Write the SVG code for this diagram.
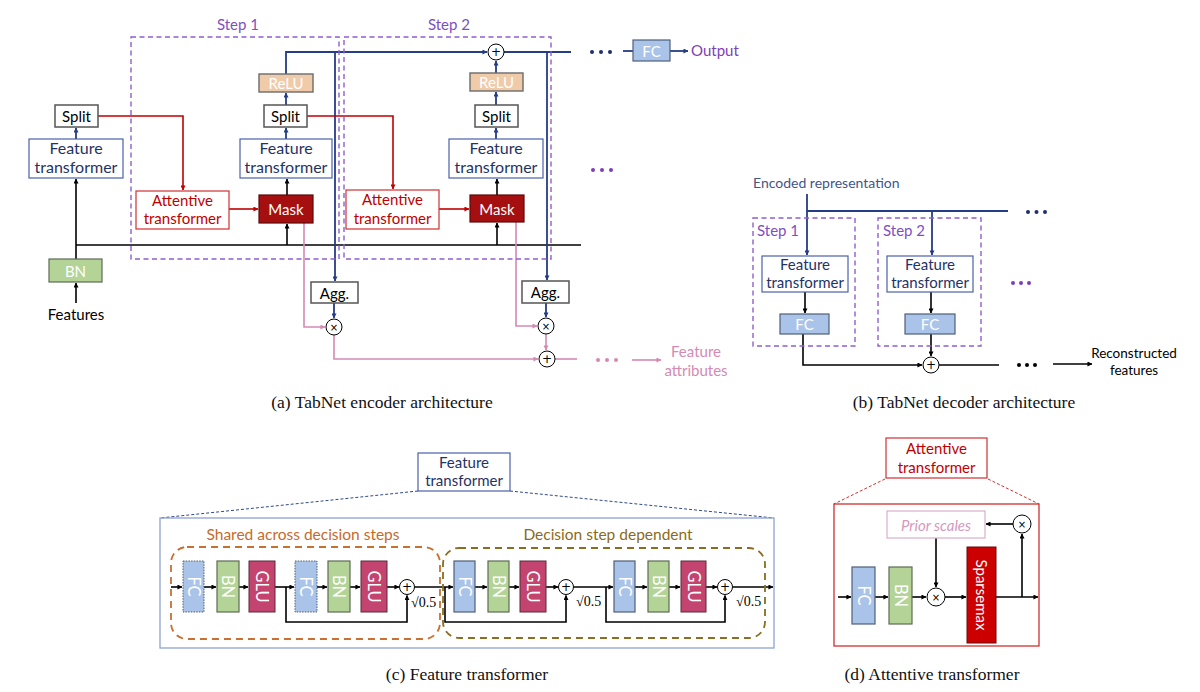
<svg xmlns="http://www.w3.org/2000/svg" width="1200" height="692" viewBox="0 0 1200 692">
<defs>
<style>
text{font-family:Lato,"Noto Sans","DejaVu Sans",sans-serif;}
.cap{font-family:"Liberation Serif","DejaVu Serif",serif;font-size:17.5px;fill:#111;text-anchor:middle;}
.serif{font-family:"Liberation Serif","DejaVu Serif",serif;}
.c{text-anchor:middle;dominant-baseline:central;}
.step{fill:none;stroke:#8E5FD0;stroke-width:1.4;stroke-dasharray:5 3.5;}
.steptxt{fill:#7E4FBF;font-size:15px;}
.ft{fill:#fff;stroke:#4A62A8;stroke-width:1.2;}
.fttxt{fill:#1F3366;font-size:15px;text-anchor:middle;}
.fte{font-size:16px;}
.gbox{fill:#fff;stroke:#555;stroke-width:1.5;}
.blk{fill:#000;font-size:15px;}
.relu{fill:#EFCBAA;stroke:#6B6B6B;stroke-width:1.4;}
.bn{fill:#B3D496;stroke:#5E6B55;stroke-width:1.2;}
.fc{fill:#A9C4E8;stroke:#4F5F78;stroke-width:1.2;}
.fcd{fill:#A9C4E8;stroke:#4F5F78;stroke-width:1;stroke-dasharray:1.5 1.2;}
.glu{fill:#C2446F;stroke:#5A2A3A;stroke-width:1;}
.wt{fill:#fff;font-size:15px;}
.rt{font-size:16.5px;}
.at{fill:#fff;stroke:#D03030;stroke-width:1.2;}
.attxt{fill:#C00000;font-size:15px;text-anchor:middle;}
.mask{fill:#A50F0F;stroke:#5A0A0A;stroke-width:1.2;}
.op{fill:#fff;stroke:#000;stroke-width:1;}
.optxt{font-family:"DejaVu Sans",sans-serif;fill:#000;text-anchor:middle;dominant-baseline:central;}
.navy{fill:none;stroke:#253C86;stroke-width:1.8;}
.bk{fill:none;stroke:#000;stroke-width:1.6;}
.red{fill:none;stroke:#C00000;stroke-width:1.6;}
.pink{fill:none;stroke:#D48AB3;stroke-width:1.6;}
</style>
<marker id="aN" viewBox="0 0 6 6" refX="5.5" refY="3" markerWidth="5" markerHeight="5" markerUnits="userSpaceOnUse" orient="auto"><path d="M0,0 L6,3 L0,6 z" fill="#253C86"/></marker>
<marker id="aK" viewBox="0 0 6 6" refX="5.5" refY="3" markerWidth="5" markerHeight="5" markerUnits="userSpaceOnUse" orient="auto"><path d="M0,0 L6,3 L0,6 z" fill="#000"/></marker>
<marker id="aR" viewBox="0 0 6 6" refX="5.5" refY="3" markerWidth="5" markerHeight="5" markerUnits="userSpaceOnUse" orient="auto"><path d="M0,0 L6,3 L0,6 z" fill="#C00000"/></marker>
<marker id="aP" viewBox="0 0 6 6" refX="5.5" refY="3" markerWidth="5" markerHeight="5" markerUnits="userSpaceOnUse" orient="auto"><path d="M0,0 L6,3 L0,6 z" fill="#D48AB3"/></marker>
</defs>
<rect width="1200" height="692" fill="#fff"/>

<!-- ===== (a) encoder ===== -->
<g id="connectors-a">
<line class="bk" x1="76" y1="303" x2="76" y2="283" marker-end="url(#aK)"/>
<line class="bk" x1="76" y1="259" x2="76" y2="179" marker-end="url(#aK)"/>
<line class="bk" x1="76" y1="245" x2="581" y2="245"/>
<line class="bk" x1="287" y1="245" x2="287" y2="224" marker-end="url(#aK)"/>
<line class="bk" x1="497" y1="245" x2="497" y2="223" marker-end="url(#aK)"/>
<line class="bk" x1="287" y1="195" x2="287" y2="179" marker-end="url(#aK)"/>
<line class="bk" x1="497" y1="195" x2="497" y2="179" marker-end="url(#aK)"/>
<line class="navy" x1="76" y1="139" x2="76" y2="128" marker-end="url(#aN)"/>
<line class="navy" x1="286" y1="139" x2="286" y2="128" marker-end="url(#aN)"/>
<line class="navy" x1="286" y1="105" x2="286" y2="93" marker-end="url(#aN)"/>
<line class="navy" x1="496" y1="139" x2="496" y2="128" marker-end="url(#aN)"/>
<line class="navy" x1="496" y1="105" x2="496" y2="92" marker-end="url(#aN)"/>
<line class="navy" x1="496" y1="73" x2="496" y2="61" marker-end="url(#aN)"/>
<path class="navy" d="M286,74 V52 H487" marker-end="url(#aN)"/>
<line class="navy" x1="504" y1="52" x2="571" y2="52"/>
<line class="navy" x1="335" y1="52" x2="335" y2="281" marker-end="url(#aN)"/>
<line class="navy" x1="547" y1="52" x2="547" y2="280" marker-end="url(#aN)"/>
<line class="navy" x1="334" y1="303" x2="334" y2="318" marker-end="url(#aN)"/>
<line class="navy" x1="546" y1="303" x2="546" y2="317" marker-end="url(#aN)"/>
<path class="red" d="M98,116 H183 V190" marker-end="url(#aR)"/>
<path class="red" d="M307,116 H393 V189" marker-end="url(#aR)"/>
<line class="red" x1="229" y1="209" x2="258" y2="209" marker-end="url(#aR)"/>
<line class="red" x1="439" y1="209" x2="469" y2="209" marker-end="url(#aR)"/>
<path class="pink" d="M304,223 V327 H325" marker-end="url(#aP)"/>
<path class="pink" d="M516,222 V326 H537" marker-end="url(#aP)"/>
<path class="pink" d="M334,335 V359 H538" marker-end="url(#aP)"/>
<line class="pink" x1="546" y1="334" x2="546" y2="350" marker-end="url(#aP)"/>
<line class="pink" x1="555" y1="359" x2="577" y2="359"/>
<line class="pink" x1="632" y1="360" x2="661" y2="360" marker-end="url(#aP)"/>
<line class="navy" x1="623" y1="51" x2="633" y2="51"/>
<line class="navy" x1="670" y1="51" x2="688" y2="51" marker-end="url(#aN)"/>
<g fill="#1F2F6B"><circle cx="592" cy="52" r="2"/><circle cx="601" cy="52" r="2"/><circle cx="610" cy="52" r="2"/></g>
<g fill="#7E3FB5"><circle cx="593" cy="170" r="2"/><circle cx="602" cy="170" r="2"/><circle cx="611" cy="170" r="2"/></g>
<g fill="#D48AB3"><circle cx="598" cy="360" r="2"/><circle cx="607" cy="360" r="2"/><circle cx="616" cy="360" r="2"/></g>
</g>

<g id="step1"><rect class="step" x="131" y="37" width="208" height="222"/><text class="steptxt" x="238" y="30" text-anchor="middle">Step 1</text></g>
<g id="step2"><rect class="step" x="344" y="37" width="207" height="222"/><text class="steptxt" x="449" y="30" text-anchor="middle">Step 2</text></g>

<g id="split0"><rect class="gbox" x="55" y="105" width="43" height="22"/><text class="blk c" x="76.5" y="116">Split</text></g>
<g id="ft0"><rect class="ft" x="29" y="139" width="94" height="39"/><text class="fttxt fte" x="76" y="154">Feature</text><text class="fttxt fte" x="76" y="173">transformer</text></g>
<g id="bn0"><rect class="bn" x="49" y="259" width="53" height="23"/><text class="wt c" x="75.5" y="270.5">BN</text></g>
<g id="features"><text class="blk" x="76" y="320" text-anchor="middle">Features</text></g>

<g id="at1"><rect class="at" x="136" y="191" width="93" height="38"/><text class="attxt" x="182.5" y="206">Attentive</text><text class="attxt" x="182.5" y="224">transformer</text></g>
<g id="mask1"><rect class="mask" x="259" y="195" width="54" height="28"/><text class="wt c" x="286" y="209">Mask</text></g>
<g id="ft1"><rect class="ft" x="240" y="139" width="92" height="39"/><text class="fttxt fte" x="286" y="154">Feature</text><text class="fttxt fte" x="286" y="173">transformer</text></g>
<g id="split1"><rect class="gbox" x="264" y="105" width="43" height="22"/><text class="blk c" x="285.5" y="116">Split</text></g>
<g id="relu1"><rect class="relu" x="259" y="74" width="54" height="18"/><text class="wt c" x="286" y="83">ReLU</text></g>
<g id="agg1"><rect class="gbox" x="311" y="282" width="47" height="21"/><text class="blk c" x="334.5" y="292.5">Agg.</text></g>
<g id="mul1"><circle class="op" cx="334" cy="327" r="8"/><text class="optxt" x="334" y="327" font-size="10">×</text></g>

<g id="at2"><rect class="at" x="346" y="190" width="93" height="39"/><text class="attxt" x="392.5" y="205">Attentive</text><text class="attxt" x="392.5" y="224">transformer</text></g>
<g id="mask2"><rect class="mask" x="470" y="195" width="54" height="27"/><text class="wt c" x="497" y="208.5">Mask</text></g>
<g id="ft2"><rect class="ft" x="449" y="139" width="94" height="39"/><text class="fttxt fte" x="496" y="154">Feature</text><text class="fttxt fte" x="496" y="173">transformer</text></g>
<g id="split2"><rect class="gbox" x="475" y="105" width="43" height="22"/><text class="blk c" x="496.5" y="116">Split</text></g>
<g id="relu2"><rect class="relu" x="470" y="73" width="53" height="18"/><text class="wt c" x="496.5" y="82">ReLU</text></g>
<g id="add1"><circle class="op" cx="496" cy="52" r="8"/><text class="optxt" x="496" y="52" font-size="12">+</text></g>
<g id="agg2"><rect class="gbox" x="522" y="281" width="47" height="22"/><text class="blk c" x="545.5" y="292">Agg.</text></g>
<g id="mul2"><circle class="op" cx="546" cy="326" r="8"/><text class="optxt" x="546" y="326" font-size="10">×</text></g>
<g id="add2"><circle class="op" cx="547" cy="359" r="8"/><text class="optxt" x="547" y="359" font-size="12">+</text></g>
<g id="fcout"><rect class="fc" x="633" y="40" width="37" height="21"/><text class="wt c" x="651.5" y="50.5">FC</text></g>
<g id="output"><text x="691" y="56" fill="#7E3FB5" font-size="15">Output</text></g>
<g id="featattr"><text x="696" y="357" fill="#D48AB3" font-size="15" text-anchor="middle">Feature</text><text x="696" y="376" fill="#D48AB3" font-size="15" text-anchor="middle">attributes</text></g>
<text class="cap" x="382" y="408">(a)  TabNet encoder architecture</text>

<!-- ===== (b) decoder ===== -->
<g id="connectors-b">
<line class="navy" x1="807" y1="194" x2="807" y2="255" marker-end="url(#aN)"/>
<line class="navy" x1="807" y1="211" x2="1008" y2="211"/>
<line class="navy" x1="932" y1="211" x2="932" y2="255" marker-end="url(#aN)"/>
<line class="bk" x1="805" y1="292" x2="805" y2="313" marker-end="url(#aK)"/>
<line class="bk" x1="931" y1="292" x2="931" y2="313" marker-end="url(#aK)"/>
<path class="bk" d="M803,334 V365 H922" marker-end="url(#aK)"/>
<line class="bk" x1="931" y1="334" x2="931" y2="356" marker-end="url(#aK)"/>
<line class="bk" x1="939" y1="365" x2="999" y2="365"/>
<line class="bk" x1="1053" y1="364" x2="1092" y2="364" marker-end="url(#aK)"/>
<g fill="#1F2F6B"><circle cx="1028" cy="212" r="2"/><circle cx="1036.5" cy="212" r="2"/><circle cx="1045" cy="212" r="2"/></g>
<g fill="#7E3FB5"><circle cx="1013" cy="283" r="2"/><circle cx="1021" cy="283" r="2"/><circle cx="1029" cy="283" r="2"/></g>
<g fill="#000"><circle cx="1019" cy="365" r="2"/><circle cx="1027" cy="365" r="2"/><circle cx="1035" cy="365" r="2"/></g>
</g>
<g id="encrep"><text x="753" y="188" fill="#3F5689" font-size="14">Encoded representation</text></g>
<g id="dstep1"><rect class="step" x="753" y="218" width="102" height="128"/><text class="steptxt" x="757" y="236">Step 1</text></g>
<g id="dstep2"><rect class="step" x="878" y="218" width="103" height="128"/><text class="steptxt" x="883" y="236">Step 2</text></g>
<g id="dft1"><rect class="ft" x="762" y="256" width="86" height="36"/><text class="fttxt" x="805" y="270" font-size="14">Feature</text><text class="fttxt" x="805" y="288" font-size="14">transformer</text></g>
<g id="dft2"><rect class="ft" x="887" y="256" width="86" height="36"/><text class="fttxt" x="930" y="270" font-size="14">Feature</text><text class="fttxt" x="930" y="288" font-size="14">transformer</text></g>
<g id="dfc1"><rect class="fc" x="780" y="314" width="49" height="20"/><text class="wt c" x="804.5" y="324" font-size="14">FC</text></g>
<g id="dfc2"><rect class="fc" x="905" y="314" width="50" height="20"/><text class="wt c" x="930" y="324" font-size="14">FC</text></g>
<g id="dadd"><circle class="op" cx="931" cy="365" r="8"/><text class="optxt" x="931" y="365" font-size="12">+</text></g>
<g id="recon"><text x="1134" y="358" font-size="13.5" text-anchor="middle" fill="#000">Reconstructed</text><text x="1134" y="375" font-size="13.5" text-anchor="middle" fill="#000">features</text></g>
<text class="cap" x="964" y="408">(b)  TabNet decoder architecture</text>

<!-- ===== (c) feature transformer ===== -->
<g id="connectors-c">
<line stroke="#2E4A8A" stroke-width="1" stroke-dasharray="3 2" x1="418" y1="491" x2="160" y2="518"/>
<line stroke="#2E4A8A" stroke-width="1" stroke-dasharray="3 2" x1="510" y1="491" x2="774" y2="518"/>
<line class="bk" x1="171" y1="587" x2="182" y2="587" marker-end="url(#aK)"/>
<line class="bk" x1="204" y1="587" x2="216" y2="587" marker-end="url(#aK)"/>
<line class="bk" x1="239" y1="587" x2="248" y2="587" marker-end="url(#aK)"/>
<line class="bk" x1="275" y1="587" x2="294" y2="587" marker-end="url(#aK)"/>
<line class="bk" x1="317" y1="587" x2="327" y2="587" marker-end="url(#aK)"/>
<line class="bk" x1="350" y1="587" x2="360" y2="587" marker-end="url(#aK)"/>
<line class="bk" x1="387" y1="587" x2="399" y2="587" marker-end="url(#aK)"/>
<line class="bk" x1="414.5" y1="587" x2="453" y2="587" marker-end="url(#aK)"/>
<line class="bk" x1="475" y1="587" x2="487" y2="587" marker-end="url(#aK)"/>
<line class="bk" x1="509" y1="587" x2="519" y2="587" marker-end="url(#aK)"/>
<line class="bk" x1="546" y1="587" x2="558" y2="587" marker-end="url(#aK)"/>
<line class="bk" x1="573.5" y1="587" x2="613" y2="587" marker-end="url(#aK)"/>
<line class="bk" x1="635" y1="587" x2="647" y2="587" marker-end="url(#aK)"/>
<line class="bk" x1="669" y1="587" x2="680" y2="587" marker-end="url(#aK)"/>
<line class="bk" x1="706" y1="587" x2="717" y2="587" marker-end="url(#aK)"/>
<line class="bk" x1="732.5" y1="587" x2="773" y2="587" marker-end="url(#aK)"/>
<path class="bk" d="M286,587 V622 H407 V595.5" marker-end="url(#aK)"/>
<path class="bk" d="M445,587 V622 H566 V595.5" marker-end="url(#aK)"/>
<path class="bk" d="M606,587 V622 H725 V595.5" marker-end="url(#aK)"/>
</g>
<g id="ftlabel"><rect class="ft" x="418" y="453" width="92" height="38"/><text class="fttxt" x="464" y="468" font-size="14.5">Feature</text><text class="fttxt" x="464" y="486" font-size="14.5">transformer</text></g>
<g id="ftouter"><rect x="160" y="518" width="614" height="130" fill="none" stroke="#8FA3CF" stroke-width="1.3"/></g>
<g id="shared"><rect x="171" y="547" width="269" height="92" rx="16" fill="none" stroke="#C8702F" stroke-width="1.8" stroke-dasharray="7 5"/><text x="303" y="540" fill="#C56A2B" font-size="15.5" text-anchor="middle">Shared across decision steps</text></g>
<g id="dependent"><rect x="443" y="548" width="322" height="90" rx="16" fill="none" stroke="#8C6D1F" stroke-width="1.8" stroke-dasharray="7 5"/><text x="608" y="540" fill="#8B6A1A" font-size="15.5" text-anchor="middle">Decision step dependent</text></g>
<g id="fc-a"><rect class="fcd" x="183" y="561" width="21" height="51"/><text class="wt rt c" transform="translate(193.5,586.5) rotate(90)">FC</text></g>
<g id="bn-a"><rect class="bn" x="217" y="561" width="22" height="51"/><text class="wt rt c" transform="translate(228,586.5) rotate(90)">BN</text></g>
<g id="glu-a"><rect class="glu" x="249" y="561" width="26" height="51"/><text class="wt rt c" transform="translate(262,586.5) rotate(90)">GLU</text></g>
<g id="fc-b"><rect class="fcd" x="295" y="561" width="22" height="51"/><text class="wt rt c" transform="translate(306,586.5) rotate(90)">FC</text></g>
<g id="bn-b"><rect class="bn" x="328" y="561" width="22" height="51"/><text class="wt rt c" transform="translate(339,586.5) rotate(90)">BN</text></g>
<g id="glu-b"><rect class="glu" x="361" y="561" width="26" height="51"/><text class="wt rt c" transform="translate(374,586.5) rotate(90)">GLU</text></g>
<g id="add-a"><circle class="op" cx="407" cy="587" r="7.5"/><text class="optxt" x="407" y="587" font-size="12">+</text><text class="serif" x="411" y="607" font-size="14" fill="#000">√0.5</text></g>
<g id="fc-c"><rect class="fc" x="454" y="561" width="21" height="51"/><text class="wt rt c" transform="translate(464.5,586.5) rotate(90)">FC</text></g>
<g id="bn-c"><rect class="bn" x="488" y="561" width="21" height="51"/><text class="wt rt c" transform="translate(498.5,586.5) rotate(90)">BN</text></g>
<g id="glu-c"><rect class="glu" x="520" y="561" width="26" height="51"/><text class="wt rt c" transform="translate(533,586.5) rotate(90)">GLU</text></g>
<g id="add-c"><circle class="op" cx="566" cy="587" r="7.5"/><text class="optxt" x="566" y="587" font-size="12">+</text><text class="serif" x="576" y="606" font-size="14" fill="#000">√0.5</text></g>
<g id="fc-d"><rect class="fc" x="614" y="561" width="21" height="51"/><text class="wt rt c" transform="translate(624.5,586.5) rotate(90)">FC</text></g>
<g id="bn-d"><rect class="bn" x="648" y="561" width="21" height="51"/><text class="wt rt c" transform="translate(658.5,586.5) rotate(90)">BN</text></g>
<g id="glu-d"><rect class="glu" x="681" y="561" width="25" height="51"/><text class="wt rt c" transform="translate(693.5,586.5) rotate(90)">GLU</text></g>
<g id="add-d"><circle class="op" cx="725" cy="587" r="7.5"/><text class="optxt" x="725" y="587" font-size="12">+</text><text class="serif" x="736" y="606" font-size="14" fill="#000">√0.5</text></g>
<text class="cap" x="467" y="680">(c)  Feature transformer</text>

<!-- ===== (d) attentive transformer ===== -->
<g id="connectors-d">
<line stroke="#D03030" stroke-width="1" stroke-dasharray="3 2" x1="885" y1="479" x2="834" y2="504"/>
<line stroke="#D03030" stroke-width="1" stroke-dasharray="3 2" x1="988" y1="479" x2="1039" y2="504"/>
<line class="bk" x1="1013" y1="524" x2="986" y2="524" marker-end="url(#aK)"/>
<line class="bk" x1="936" y1="538" x2="936" y2="587" marker-end="url(#aK)"/>
<line class="bk" x1="838" y1="597" x2="851" y2="597" marker-end="url(#aK)"/>
<line class="bk" x1="875" y1="597" x2="888" y2="597" marker-end="url(#aK)"/>
<line class="bk" x1="912" y1="597" x2="926" y2="597" marker-end="url(#aK)"/>
<line class="bk" x1="945" y1="597" x2="966" y2="597" marker-end="url(#aK)"/>
<line class="bk" x1="996" y1="597" x2="1038" y2="597" marker-end="url(#aK)"/>
<line class="bk" x1="1022" y1="597" x2="1022" y2="534" marker-end="url(#aK)"/>
</g>
<g id="atlabel"><rect class="at" x="886" y="438" width="101" height="40"/><text class="attxt" x="936.5" y="454">Attentive</text><text class="attxt" x="936.5" y="473">transformer</text></g>
<g id="atouter"><rect x="834" y="504" width="205" height="142" fill="none" stroke="#D03030" stroke-width="1.3"/></g>
<g id="prior"><rect x="887" y="511" width="98" height="27" fill="#fff" stroke="#D9AEC8" stroke-width="1.2"/><text class="c" x="936" y="524.5" fill="#D39ABD" font-size="15" font-style="italic">Prior scales</text></g>
<g id="mul-top"><circle class="op" cx="1022" cy="524" r="9"/><text class="optxt" x="1022" y="524" font-size="10">×</text></g>
<g id="mul-bot"><circle class="op" cx="936" cy="597" r="9"/><text class="optxt" x="936" y="597" font-size="10">×</text></g>
<g id="afc"><rect class="fc" x="852" y="567" width="23" height="57"/><text class="wt rt c" transform="translate(863.5,595.5) rotate(90)">FC</text></g>
<g id="abn"><rect class="bn" x="889" y="567" width="23" height="57"/><text class="wt rt c" transform="translate(900.5,595.5) rotate(90)">BN</text></g>
<g id="sparsemax"><rect x="967" y="547" width="29" height="96" fill="#CC0000" stroke="#6A0A0A" stroke-width="1"/><text class="wt c" transform="translate(981.5,595) rotate(90)">Sparsemax</text></g>
<text class="cap" x="932" y="680">(d)  Attentive transformer</text>
</svg>
